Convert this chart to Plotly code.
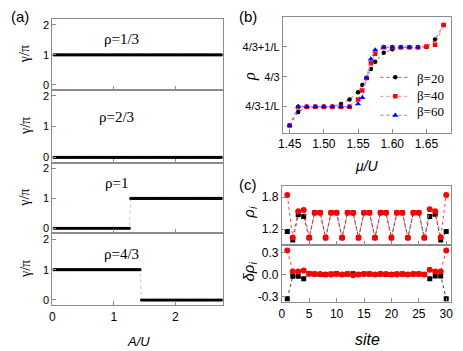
import plotly.graph_objects as go

# ---- panel (a): gamma/pi vs A/U ----
a_u = [
    0.025, 0.05, 0.075, 0.1, 0.125, 0.15, 0.175, 0.2, 0.225, 0.25,
    0.275, 0.3, 0.325, 0.35, 0.375, 0.4, 0.425, 0.45, 0.475, 0.5,
    0.525, 0.55, 0.575, 0.6, 0.625, 0.65, 0.675, 0.7, 0.725, 0.75,
    0.775, 0.8, 0.825, 0.85, 0.875, 0.9, 0.925, 0.95, 0.975, 1.0,
    1.025, 1.05, 1.075, 1.1, 1.125, 1.15, 1.175, 1.2, 1.225, 1.25,
    1.275, 1.3, 1.325, 1.35, 1.375, 1.4, 1.425, 1.45, 1.475, 1.5,
    1.525, 1.55, 1.575, 1.6, 1.625, 1.65, 1.675, 1.7, 1.725, 1.75,
    1.775, 1.8, 1.825, 1.85, 1.875, 1.9, 1.925, 1.95, 1.975, 2.0,
    2.025, 2.05, 2.075, 2.1, 2.125, 2.15, 2.175, 2.2, 2.225, 2.25,
    2.275, 2.3, 2.325, 2.35, 2.375, 2.4, 2.425, 2.45, 2.475, 2.5,
    2.525, 2.55, 2.575, 2.6, 2.625, 2.65, 2.675, 2.7, 2.725, 2.75,
]
gamma_13 = [
    1, 1, 1, 1, 1, 1, 1, 1, 1, 1,
    1, 1, 1, 1, 1, 1, 1, 1, 1, 1,
    1, 1, 1, 1, 1, 1, 1, 1, 1, 1,
    1, 1, 1, 1, 1, 1, 1, 1, 1, 1,
    1, 1, 1, 1, 1, 1, 1, 1, 1, 1,
    1, 1, 1, 1, 1, 1, 1, 1, 1, 1,
    1, 1, 1, 1, 1, 1, 1, 1, 1, 1,
    1, 1, 1, 1, 1, 1, 1, 1, 1, 1,
    1, 1, 1, 1, 1, 1, 1, 1, 1, 1,
    1, 1, 1, 1, 1, 1, 1, 1, 1, 1,
    1, 1, 1, 1, 1, 1, 1, 1, 1, 1,
]
gamma_23 = [
    0, 0, 0, 0, 0, 0, 0, 0, 0, 0,
    0, 0, 0, 0, 0, 0, 0, 0, 0, 0,
    0, 0, 0, 0, 0, 0, 0, 0, 0, 0,
    0, 0, 0, 0, 0, 0, 0, 0, 0, 0,
    0, 0, 0, 0, 0, 0, 0, 0, 0, 0,
    0, 0, 0, 0, 0, 0, 0, 0, 0, 0,
    0, 0, 0, 0, 0, 0, 0, 0, 0, 0,
    0, 0, 0, 0, 0, 0, 0, 0, 0, 0,
    0, 0, 0, 0, 0, 0, 0, 0, 0, 0,
    0, 0, 0, 0, 0, 0, 0, 0, 0, 0,
    0, 0, 0, 0, 0, 0, 0, 0, 0, 0,
]
gamma_1 = [
    0, 0, 0, 0, 0, 0, 0, 0, 0, 0,
    0, 0, 0, 0, 0, 0, 0, 0, 0, 0,
    0, 0, 0, 0, 0, 0, 0, 0, 0, 0,
    0, 0, 0, 0, 0, 0, 0, 0, 0, 0,
    0, 0, 0, 0, 0, 0, 0, 0, 0, 0,
    1, 1, 1, 1, 1, 1, 1, 1, 1, 1,
    1, 1, 1, 1, 1, 1, 1, 1, 1, 1,
    1, 1, 1, 1, 1, 1, 1, 1, 1, 1,
    1, 1, 1, 1, 1, 1, 1, 1, 1, 1,
    1, 1, 1, 1, 1, 1, 1, 1, 1, 1,
    1, 1, 1, 1, 1, 1, 1, 1, 1, 1,
]
gamma_43 = [
    1, 1, 1, 1, 1, 1, 1, 1, 1, 1,
    1, 1, 1, 1, 1, 1, 1, 1, 1, 1,
    1, 1, 1, 1, 1, 1, 1, 1, 1, 1,
    1, 1, 1, 1, 1, 1, 1, 1, 1, 1,
    1, 1, 1, 1, 1, 1, 1, 1, 1, 1,
    1, 1, 1, 1, 1, 1, 1, 0, 0, 0,
    0, 0, 0, 0, 0, 0, 0, 0, 0, 0,
    0, 0, 0, 0, 0, 0, 0, 0, 0, 0,
    0, 0, 0, 0, 0, 0, 0, 0, 0, 0,
    0, 0, 0, 0, 0, 0, 0, 0, 0, 0,
    0, 0, 0, 0, 0, 0, 0, 0, 0, 0,
]
a_panels = [("ρ=1/3", gamma_13), ("ρ=2/3", gamma_23), ("ρ=1", gamma_1), ("ρ=4/3", gamma_43)]

# ---- panel (b): rho vs mu/U ----
mu_b = [1.45, 1.4625, 1.475, 1.4875, 1.5, 1.5125, 1.525, 1.5375, 1.55, 1.55625, 1.5625,
        1.56875, 1.575, 1.5875, 1.6, 1.6125, 1.625, 1.6375, 1.65, 1.6625, 1.675]
rho_b20 = [1.279, 1.294, 1.2995, 1.300, 1.300, 1.300, 1.303, 1.308, 1.316, 1.324, 1.332,
           1.342, 1.350, 1.360, 1.364, 1.3663, 1.3663, 1.3663, 1.3665, 1.375, 1.391]
rho_b40 = [1.279, 1.2993, 1.300, 1.300, 1.300, 1.300, 1.300, 1.300, 1.308, 1.318, 1.332,
           1.3485, 1.359, 1.3663, 1.3663, 1.3663, 1.3663, 1.3663, 1.367, 1.369, 1.391]
mu_b60 = [1.45, 1.4625, 1.475, 1.4875, 1.5, 1.5125, 1.525, 1.5375, 1.55, 1.55625, 1.5625,
          1.56875, 1.575, 1.5875, 1.6, 1.6125, 1.625, 1.6375]
rho_b60 = [1.279, 1.3003, 1.300, 1.300, 1.300, 1.300, 1.300, 1.300, 1.303, 1.310, 1.332,
           1.353, 1.3633, 1.3663, 1.3663, 1.3663, 1.3663, 1.3663]
beta_labels = ["β=20", "β=40", "β=60"]

# ---- panel (c): site profiles ----
sites = [1, 2, 3, 4, 5, 6, 7, 8, 9, 10, 11, 12, 13, 14, 15,
         16, 17, 18, 19, 20, 21, 22, 23, 24, 25, 26, 27, 28, 29, 30]
rho_black = [1.156, 1.0, 1.47, 1.44, 1.04, 1.51, 1.51, 1.04, 1.51, 1.51, 1.04, 1.51, 1.51, 1.04, 1.51,
             1.51, 1.04, 1.51, 1.51, 1.04, 1.51, 1.51, 1.04, 1.51, 1.51, 1.04, 1.44, 1.48, 1.0, 1.156]
rho_red = [1.84, 1.045, 1.535, 1.56, 1.04, 1.51, 1.51, 1.04, 1.51, 1.51, 1.04, 1.51, 1.505, 1.04, 1.51,
           1.51, 1.04, 1.51, 1.51, 1.04, 1.51, 1.51, 1.04, 1.51, 1.51, 1.04, 1.575, 1.535, 1.05, 1.84]
drho_black = [-0.333, -0.023, -0.025, -0.06, 0.01, 0.005, 0.0, 0.0, 0.005, 0.01, 0.0, 0.005, 0.01, 0.0, 0.005,
              0.005, 0.0, 0.005, 0.0, 0.0, 0.005, 0.005, 0.0, 0.005, 0.005, 0.0, -0.06, -0.02, -0.02, -0.333]
drho_red = [0.33, 0.041, 0.041, 0.055, 0.01, 0.005, 0.005, 0.0, 0.0, 0.005, 0.0, 0.005, -0.01, 0.0, 0.005,
            0.005, 0.0, 0.005, 0.005, 0.0, 0.0, 0.005, 0.0, 0.005, 0.005, 0.0, 0.064, 0.04, 0.04, 0.33]

# the page body has an 8px margin, so the figure is drawn 8px in from the corner
OFF = 8
W, H = 463 - OFF, 351 - OFF
SANS = "Liberation Sans"
SERIF = "Liberation Serif"


def px_x(a, b):
    return [(a - OFF) / W, (b - OFF) / W]


def px_y(top, bottom):
    return [1 - (bottom - OFF) / H, 1 - (top - OFF) / H]


def ax(**kw):
    d = dict(showline=True, mirror=True, linecolor="#8c8c8c", linewidth=1,
             ticks="inside", ticklen=4, tickcolor="#8c8c8c",
             showgrid=False, zeroline=False,
             tickfont=dict(family=SANS, size=12, color="black"))
    d.update(kw)
    return d


fig = go.Figure()
layout = {}
annotations = []


def note(text, x, y, font, angle=0, xanchor="center"):
    annotations.append(dict(text=text, x=(x - OFF) / W, y=1 - (y - OFF) / H, xref="paper", yref="paper",
                            xanchor=xanchor, yanchor="middle",
                            showarrow=False, textangle=angle, font=font))


# panel (a)
a_rows = [(19, 90), (90, 163), (163, 234), (234, 306)]
for i, (label, gam) in enumerate(a_panels):
    n = i + 1
    fig.add_trace(go.Scatter(
        x=a_u, y=gam, mode="lines+markers", showlegend=False,
        line=dict(color="#b0b0b0", width=0.7, dash="dot"),
        marker=dict(color="black", size=3.2),
        xaxis="x%d" % n, yaxis="y%d" % n))
    layout["xaxis%d" % n] = ax(domain=px_x(48, 221), range=[0, 2.77], tickvals=[0, 1, 2],
                              showticklabels=(n == 4), anchor="y%d" % n)
    layout["yaxis%d" % n] = ax(domain=px_y(*a_rows[i]), range=[-0.17, 2.2], tickvals=[0, 1, 2],
                              tickfont=dict(family=SANS, size=11, color="black"), anchor="x%d" % n)
    top, bottom = a_rows[i]
    note("γ/π", 20, (top + bottom) / 2, dict(family=SERIF, size=14, color="black"), -90)
    note(label, [118, 113, 113, 118][i], [39, 117, 184, 255][i], dict(family=SERIF, size=15, color="black"))

# panel (b); legend keys come from plotly, the labels are set beside them
b_series = [(mu_b, rho_b20, "black", "#707070", "circle", 4.5),
            (mu_b, rho_b40, "red", "#ff8080", "square", 4.5),
            (mu_b60, rho_b60, "blue", "#8080ff", "triangle-up", 5.5)]
for xs, ys, col, lcol, sym, sz in b_series:
    fig.add_trace(go.Scatter(
        x=xs, y=ys, mode="lines+markers", name=" ",
        line=dict(color=lcol, width=1, dash="dot"),
        marker=dict(color=col, size=sz, symbol=sym),
        xaxis="x5", yaxis="y5"))
for lab, ly in zip(beta_labels, [79, 96, 112]):
    note(lab, 416, ly, dict(family=SERIF, size=13, color="black"), xanchor="left")
layout["xaxis5"] = ax(domain=px_x(282, 453), range=[1.44, 1.686],
                      tickvals=[1.45, 1.5, 1.55, 1.6, 1.65], ticktext=["1.45", "1.50", "1.55", "1.60", "1.65"],
                      anchor="y5")
layout["yaxis5"] = ax(domain=px_y(17, 133), range=[1.271, 1.4],
                      tickvals=[1.3, 4 / 3, 1.3667], ticktext=["4/3-1/L", "4/3", "4/3+1/L"],
                      tickfont=dict(family=SANS, size=11, color="black"), anchor="x5")

# panel (c)
c_traces = [(rho_black, "x6", "y6", "#404040", "black", "square", 5),
            (rho_red, "x6", "y6", "#ff4040", "red", "circle", 6),
            (drho_black, "x7", "y7", "#404040", "black", "square", 5),
            (drho_red, "x7", "y7", "#ff4040", "red", "circle", 6)]
for ys, xa, ya, lcol, col, sym, sz in c_traces:
    fig.add_trace(go.Scatter(x=sites, y=ys, mode="lines+markers", showlegend=False,
                             line=dict(color=lcol, width=1, dash="dot"),
                             marker=dict(color=col, size=sz, symbol=sym),
                             xaxis=xa, yaxis=ya))
layout["xaxis6"] = ax(domain=px_x(281, 453), range=[0, 30.9], tickvals=[0, 5, 10, 15, 20, 25, 30],
                      showticklabels=False, anchor="y6")
layout["yaxis6"] = ax(domain=px_y(187, 246), range=[0.9, 2.0], tickvals=[1.2, 1.8],
                      ticktext=["1.2", "1.8"], anchor="x6")
layout["xaxis7"] = ax(domain=px_x(281, 453), range=[0, 30.9], tickvals=[0, 5, 10, 15, 20, 25, 30],
                      anchor="y7")
layout["yaxis7"] = ax(domain=px_y(246, 303), range=[-0.38, 0.4], tickvals=[-0.3, 0, 0.3],
                      ticktext=["-0.3", "0.0", "0.3"], anchor="x7")

# axis titles and panel labels
note("(a)", 15, 17, dict(family=SANS, size=15, color="black"))
note("(b)", 247, 17, dict(family=SANS, size=15, color="black"))
note("(c)", 247, 185, dict(family=SANS, size=15, color="black"))
note("<i>A/U</i>", 135, 342, dict(family=SANS, size=13, color="black"))
note("<i>μ/U</i>", 368, 166, dict(family=SANS, size=14, color="black"))
note("<i>site</i>", 368, 340, dict(family=SANS, size=16, color="black"))
note("<i>ρ</i>", 248, 77, dict(family=SERIF, size=16, color="black"), -90)
note("<i>ρ<sub>i</sub></i>", 248, 213, dict(family=SANS, size=15, color="black"), -90)
note("<i>δρ<sub>i</sub></i>", 248, 272, dict(family=SANS, size=15, color="black"), -90)

fig.update_layout(
    width=W, height=H,
    margin=dict(l=0, r=0, t=0, b=0),
    plot_bgcolor="white", paper_bgcolor="white",
    font=dict(family=SANS, size=12, color="black"),
    annotations=annotations,
    legend=dict(x=(376 - OFF) / W, y=1 - (63 - OFF) / H, xanchor="left", yanchor="top",
                bgcolor="rgba(0,0,0,0)", font=dict(family=SERIF, size=12),
                itemwidth=30, tracegroupgap=0),
    **layout,
)

fig.write_html("out.html")
